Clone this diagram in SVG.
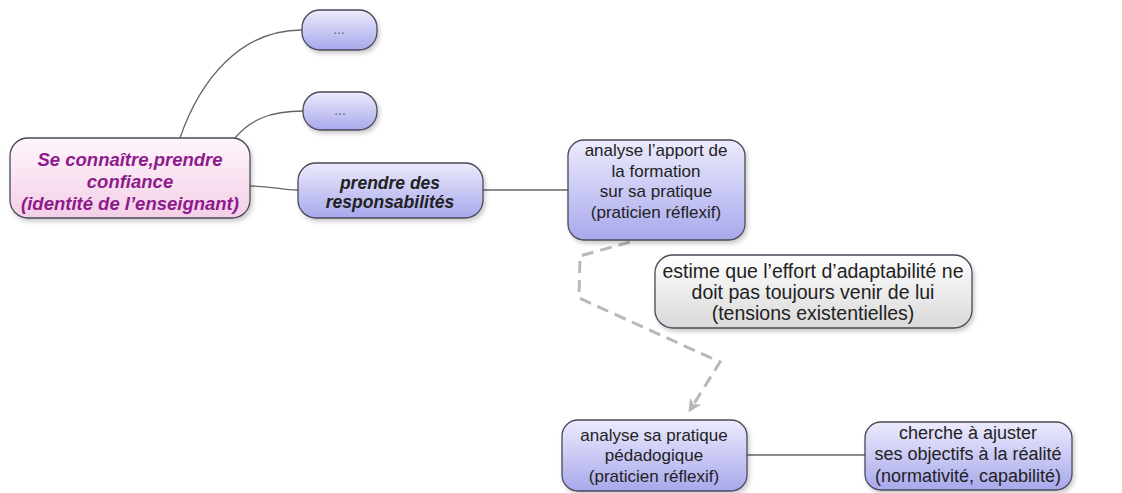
<svg xmlns="http://www.w3.org/2000/svg" width="1122" height="493" viewBox="0 0 1122 493">
<defs>
<linearGradient id="gPurple" x1="0" y1="0" x2="0" y2="1">
<stop offset="0" stop-color="#ecebfd"/>
<stop offset="1" stop-color="#a8a8ec"/>
</linearGradient>
<linearGradient id="gPink" x1="0" y1="0" x2="0" y2="1">
<stop offset="0" stop-color="#fff6fc"/>
<stop offset="1" stop-color="#f3cfe6"/>
</linearGradient>
<linearGradient id="gGray" x1="0" y1="0" x2="0" y2="1">
<stop offset="0" stop-color="#ffffff"/>
<stop offset="1" stop-color="#d9d9d9"/>
</linearGradient>
<marker id="arr" viewBox="0 0 10 10" refX="8" refY="5" markerWidth="4.5" markerHeight="4.5" orient="auto">
<path d="M0,0 L10,5 L0,10 L3,5 z" fill="#b8b8b8"/>
</marker>
<filter id="sh" x="-10%" y="-10%" width="130%" height="140%">
<feDropShadow dx="2" dy="3" stdDeviation="2" flood-color="#000" flood-opacity="0.2"/>
</filter>
</defs>
<style>
.box{stroke:#4a4a5a;stroke-width:1.3;filter:url(#sh)}
.p{fill:url(#gPurple)}
.t{font-family:"Liberation Sans",Arial,sans-serif;font-size:17px;fill:#222;text-anchor:middle}
.bi{font-weight:bold;font-style:italic}
.conn{fill:none;stroke:#666;stroke-width:1.3}
</style>
<rect width="1122" height="493" fill="#ffffff"/>
<g id="connectors">
<path class="conn" d="M180,138 C200,80 240,30 302,30"/>
<path class="conn" d="M235,138 C250,120 270,111 303,111"/>
<path class="conn" d="M250,186 C272,186 280,190 298,190"/>
<path class="conn" d="M483,190 L568,190"/>
<path class="conn" d="M747,455 L865,455"/>
<path d="M630,242 L580,256 L579,298 L720,362 L690,410" fill="none" stroke="#b8b8b8" stroke-width="3" stroke-dasharray="12,7" marker-end="url(#arr)"/>
</g>
<g id="root">
<rect class="box" x="10" y="138" width="240" height="80" rx="18" fill="url(#gPink)" stroke="#777"/>
<text class="t bi" x="130" y="166" style="fill:#8e1a8e;font-size:18.5px">Se connaître,prendre</text>
<text class="t bi" x="130" y="188" style="fill:#8e1a8e;font-size:18.5px">confiance</text>
<text class="t bi" x="130" y="210" style="fill:#8e1a8e;font-size:18.5px">(identité de l’enseignant)</text>
</g>
<g id="dots1">
<rect class="box p" x="302" y="10" width="75" height="40" rx="18"/>
<text class="t" x="339" y="34" style="fill:#666;font-size:14px">...</text>
</g>
<g id="dots2">
<rect class="box p" x="303" y="92" width="74" height="38" rx="18"/>
<text class="t" x="340" y="115" style="fill:#666;font-size:14px">...</text>
</g>
<g id="responsabilites">
<rect class="box p" x="298" y="163" width="185" height="55" rx="18"/>
<text class="t bi" x="390" y="189" style="font-size:17.5px">prendre des</text>
<text class="t bi" x="390" y="208" style="font-size:17.5px">responsabilités</text>
</g>
<g id="apport">
<rect class="box p" x="568" y="140" width="177" height="100" rx="16"/>
<text class="t" x="656" y="156">analyse l’apport de</text>
<text class="t" x="656" y="177">la formation</text>
<text class="t" x="656" y="197">sur sa pratique</text>
<text class="t" x="656" y="218">(praticien réflexif)</text>
</g>
<g id="estime">
<rect class="box" x="655" y="255" width="317" height="73" rx="18" fill="url(#gGray)" stroke="#666"/>
<text class="t" x="813" y="278" style="font-size:19.5px">estime que l’effort d’adaptabilité ne</text>
<text class="t" x="813" y="299" style="font-size:19.5px">doit pas toujours venir de lui</text>
<text class="t" x="813" y="320" style="font-size:19.5px">(tensions existentielles)</text>
</g>
<g id="pratique">
<rect class="box p" x="562" y="420" width="185" height="71" rx="16"/>
<text class="t" x="654" y="441">analyse sa pratique</text>
<text class="t" x="654" y="461">pédadogique</text>
<text class="t" x="654" y="482">(praticien réflexif)</text>
</g>
<g id="ajuster">
<rect class="box p" x="865" y="422" width="207" height="68" rx="16"/>
<text class="t" x="968" y="439" style="font-size:18px">cherche à ajuster</text>
<text class="t" x="968" y="460" style="font-size:18px">ses objectifs à la réalité</text>
<text class="t" x="968" y="482" style="font-size:18px">(normativité, capabilité)</text>
</g>
</svg>
